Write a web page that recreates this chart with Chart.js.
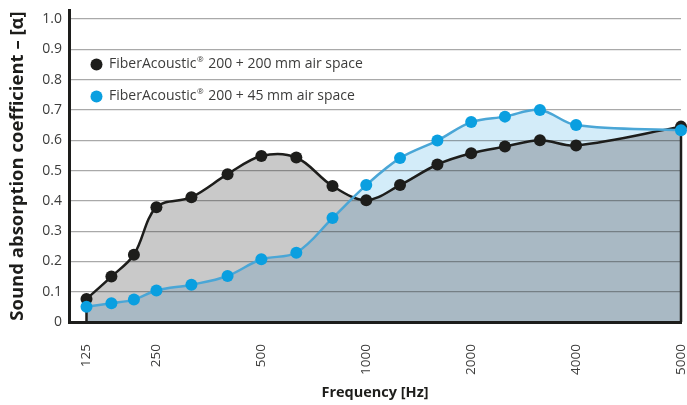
<!DOCTYPE html>
<html>
<head>
<meta charset="utf-8">
<script src="https://cdn.jsdelivr.net/npm/chart.js@4.4.1/dist/chart.umd.min.js"></script>
<style>
  html, body { margin: 0; padding: 0; background: #ffffff; }
  #wrap { width: 687px; height: 405px; }
</style>
</head>
<body>
<div id="wrap"><canvas id="chart" width="687" height="405"></canvas></div>
<script>
// ---------- data ----------
const frequencies = [125, 160, 200, 250, 315, 400, 500, 630, 800, 1000, 1250, 1600, 2000, 2500, 3150, 4000, 5000];
const alpha200mm = [0.076, 0.150, 0.222, 0.379, 0.412, 0.488, 0.548, 0.543, 0.449, 0.402, 0.452, 0.520, 0.557, 0.579, 0.600, 0.583, 0.645];
const alpha45mm  = [0.050, 0.062, 0.074, 0.104, 0.123, 0.152, 0.207, 0.229, 0.343, 0.452, 0.541, 0.599, 0.660, 0.678, 0.700, 0.650, 0.633];
const tickFrequencies = [125, 250, 500, 1000, 2000, 4000, 5000];
const yTickValues = [0, 0.1, 0.2, 0.3, 0.4, 0.5, 0.6, 0.7, 0.8, 0.9, 1.0];
const seriesLabels = ['FiberAcoustic® 200 + 200 mm air space', 'FiberAcoustic® 200 + 45 mm air space'];
const axisTitles = { x: 'Frequency [Hz]', y: 'Sound absorption coefficient – [α]' };

// ---------- custom frequency axis: log inside each labelled band, band widths as on the printed axis ----------
class BandFrequencyScale extends Chart.LinearScale {
  _segments() { return [2, 3, 3, 3, 3, 3]; }          // relative widths between labelled ticks
  _toUnit(v) {
    const a = tickFrequencies, s = this._segments();
    let u = 0, i = 0;
    while (i < a.length - 2 && v > a[i + 1]) { u += s[i]; i++; }
    return u + s[i] * Math.log(v / a[i]) / Math.log(a[i + 1] / a[i]);
  }
  _fromUnit(u) {
    const a = tickFrequencies, s = this._segments();
    let i = 0;
    while (i < s.length - 1 && u > s[i]) { u -= s[i]; i++; }
    return a[i] * Math.pow(a[i + 1] / a[i], u / s[i]);
  }
  determineDataLimits() {
    this.min = tickFrequencies[0];
    this.max = tickFrequencies[tickFrequencies.length - 1];
  }
  buildTicks() { return tickFrequencies.map(v => ({ value: v })); }
  configure() {
    super.configure();
    this._u0 = -0.5;
    this._u1 = this._segments().reduce((p, c) => p + c, 0);
  }
  getPixelForValue(v) {
    return this.getPixelForDecimal((this._toUnit(v) - this._u0) / (this._u1 - this._u0));
  }
  getValueForPixel(p) {
    return this._fromUnit(this._u0 + this.getDecimalForPixel(p) * (this._u1 - this._u0));
  }
}
BandFrequencyScale.id = 'bandFrequency';
BandFrequencyScale.defaults = { ticks: { callback: v => String(v) } };
Chart.register(BandFrequencyScale);

// ---------- colours ----------
const BLACK = '#1d1d1b';
const BLUE_DOT = '#0a9fe0';
const BLUE_LINE = '#4aa6d6';
const GREY_FILL = '#c9c9c9';
const SLATE_FILL = '#a9b9c4';
const LIGHTBLUE_FILL = '#d3ecf9';

const pts = arr => frequencies.map((f, i) => ({ x: f, y: arr[i] }));

// vertical dark edges of the filled area at first and last band
const areaEdges = {
  id: 'areaEdges',
  beforeDatasetsDraw(chart) {
    const xs = chart.scales.x, ys = chart.scales.y, ctx = chart.ctx;
    ctx.save();
    ctx.strokeStyle = BLACK;
    ctx.lineWidth = 2.5;
    [0, frequencies.length - 1].forEach(i => {
      const px = xs.getPixelForValue(frequencies[i]);
      ctx.beginPath();
      ctx.moveTo(px, ys.getPixelForValue(0));
      ctx.lineTo(px, ys.getPixelForValue(Math.max(alpha200mm[i], alpha45mm[i])));
      ctx.stroke();
    });
    ctx.restore();
  }
};

// legend drawn inside the plot area
const insideLegend = {
  id: 'insideLegend',
  afterDraw(chart, args, o) {
    const ctx = chart.ctx, area = chart.chartArea;
    ctx.save();
    o.order.forEach((di, k) => {
      const ds = chart.data.datasets[di];
      const cx = area.left + o.offsetX;
      const cy = area.top + o.offsetY + k * o.rowGap;
      ctx.fillStyle = ds.pointBackgroundColor;
      ctx.beginPath();
      ctx.arc(cx, cy, 6, 0, Math.PI * 2);
      ctx.fill();
      ctx.fillStyle = '#3c3c3b';
      ctx.textBaseline = 'middle';
      ctx.textAlign = 'left';
      let x = cx + o.textGap;
      const parts = ds.label.split('®');
      parts.forEach((p, i) => {
        ctx.font = '14px "Open Sans"';
        ctx.fillText(p, x, cy);
        x += ctx.measureText(p).width;
        if (i < parts.length - 1) {
          ctx.font = '8px "Open Sans"';
          ctx.fillText('®', x + 0.5, cy - 5);
          x += ctx.measureText('®').width + 1.5;
        }
      });
    });
    ctx.restore();
  }
};

new Chart(document.getElementById('chart'), {
  type: 'line',
  data: {
    datasets: [
      { // 45 mm series: line + fill between the two curves
        label: seriesLabels[1],
        data: pts(alpha45mm),
        borderColor: BLUE_LINE,
        borderWidth: 2.5,
        pointBackgroundColor: BLUE_DOT,
        pointBorderWidth: 0,
        pointRadius: 6,
        pointHoverRadius: 6,
        tension: 0.35,
        clip: false,
        fill: { target: 1, above: LIGHTBLUE_FILL, below: GREY_FILL }
      },
      { // 200 mm series
        label: seriesLabels[0],
        data: pts(alpha200mm),
        borderColor: BLACK,
        borderWidth: 2.5,
        backgroundColor: SLATE_FILL,
        pointBackgroundColor: BLACK,
        pointBorderWidth: 0,
        pointRadius: 6,
        pointHoverRadius: 6,
        tension: 0.35,
        clip: false,
        fill: 'origin'
      },
      { // area under the 45 mm curve (no line)
        label: '',
        data: pts(alpha45mm),
        borderWidth: 0,
        borderColor: 'rgba(0,0,0,0)',
        backgroundColor: SLATE_FILL,
        pointRadius: 0,
        pointHoverRadius: 0,
        tension: 0.35,
        fill: 'origin'
      }
    ]
  },
  options: {
    responsive: false,
    animation: false,
    events: [],
    layout: { padding: { top: 10, right: 6, bottom: 0, left: 0 } },
    plugins: {
      legend: { display: false },
      tooltip: { enabled: false },
      filler: { drawTime: 'beforeDraw' },
      insideLegend: { order: [1, 0], offsetX: 27.5, offsetY: 54.5, rowGap: 32, textGap: 12.5 }
    },
    scales: {
      x: {
        type: 'bandFrequency',
        ticks: {
          autoSkip: false,
          minRotation: 90,
          maxRotation: 90,
          padding: 22,
          color: '#3c3c3b',
          font: { family: 'Open Sans', size: 13.5 },
          callback: v => String(v)
        },
        grid: { display: false, drawTicks: false },
        border: { color: BLACK, width: 3 },
        title: {
          display: true,
          text: axisTitles.x,
          color: BLACK,
          font: { family: 'Open Sans', size: 14.5, weight: 'bold' },
          padding: { top: 0, bottom: 3 }
        },
        afterFit: s => { s.height = 83; s.paddingLeft = 0; s.paddingRight = 0; }
      },
      y: {
        min: 0,
        max: 1.03,
        afterBuildTicks: s => { s.ticks = yTickValues.map(v => ({ value: v })); },
        ticks: {
          padding: 7,
          color: '#3c3c3b',
          font: { family: 'Open Sans', size: 14 },
          callback: v => (v === 0 ? '0' : v.toFixed(1))
        },
        grid: { color: 'rgba(40,40,40,0.4)', lineWidth: 1.2, drawTicks: false },
        border: { color: BLACK, width: 3 },
        title: {
          display: true,
          text: axisTitles.y,
          color: BLACK,
          font: { family: 'Open Sans', size: 18.5, weight: 'bold' },
          padding: { top: 7, bottom: 0 }
        },
        afterFit: s => { s.width = 69; s.paddingTop = 0; s.paddingBottom = 0; }
      }
    }
  },
  plugins: [areaEdges, insideLegend]
});
</script>
</body>
</html>
